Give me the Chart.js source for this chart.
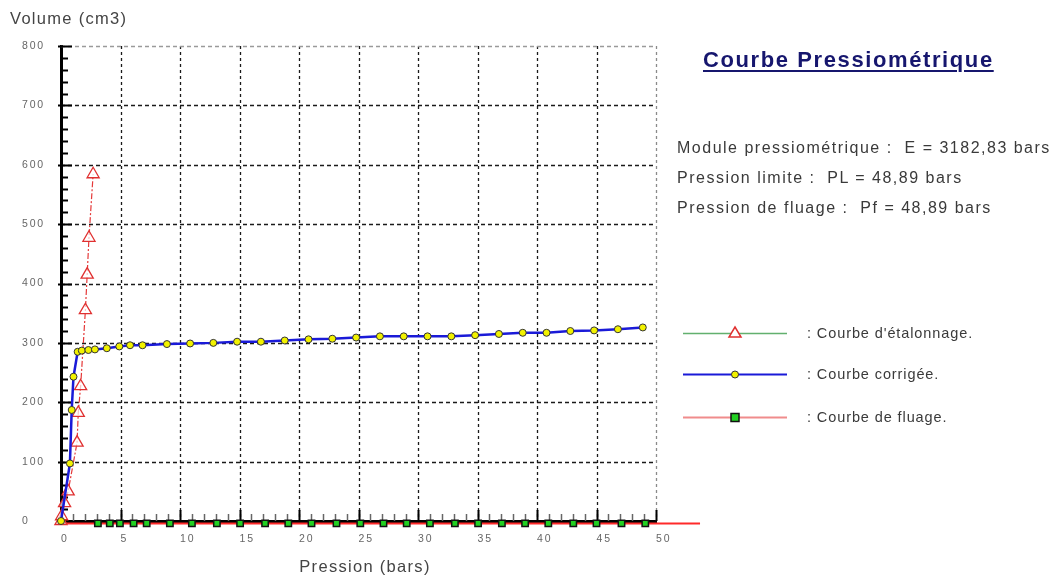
<!DOCTYPE html>
<html lang="fr">
<head>
<meta charset="utf-8">
<title>Courbe Pressiométrique</title>
<script src="https://cdn.jsdelivr.net/npm/chart.js@4.4.1/dist/chart.umd.min.js"></script>
<style>
  html, body { margin: 0; padding: 0; background: #fff; }
  #wrap { position: relative; width: 1060px; height: 580px; overflow: hidden; font-family: "Liberation Sans", Arial, sans-serif; }
  #chart { position: absolute; left: 0; top: 0; }
  .txt { position: absolute; white-space: nowrap; transform: translateY(-50%); color: #3a3a3a; line-height: 1; }
  #ytitle { left: 10px; top: 18px; font-size: 16.5px; color: #444; letter-spacing: 1.3px; }
  #xtitle { left: 365px; top: 566px; font-size: 16.5px; color: #444; letter-spacing: 1.3px; transform: translate(-50%, -50%); }
  #title { left: 703px; top: 60px; font-size: 22px; font-weight: bold; color: #16166e; letter-spacing: 1.6px;
           text-decoration: underline; text-decoration-thickness: 2px; text-underline-offset: 3px; }
  .info { left: 677px; font-size: 16px; color: #3a3a3a; letter-spacing: 1.5px; }
  .leg { left: 807px; font-size: 14.5px; color: #3a3a3a; letter-spacing: 0.9px; }
</style>
</head>
<body>
<div id="wrap">
  <canvas id="chart" width="1060" height="580"></canvas>
  <div class="txt" id="ytitle">Volume (cm3)</div>
  <div class="txt" id="xtitle">Pression (bars)</div>
  <div class="txt" id="title">Courbe Pressiométrique</div>
  <div class="txt info" style="top:148px">Module pressiométrique :&nbsp; E = 3182,83 bars</div>
  <div class="txt info" style="top:178px">Pression limite :&nbsp; PL = 48,89 bars</div>
  <div class="txt info" style="top:208px">Pression de fluage :&nbsp; Pf = 48,89 bars</div>
  <div class="txt leg" style="top:333px">: Courbe d'étalonnage.</div>
  <div class="txt leg" style="top:374px">: Courbe corrigée.</div>
  <div class="txt leg" style="top:417px">: Courbe de fluage.</div>
</div>
<script>
// Axis ticks
const xTickValues = [0, 5, 10, 15, 20, 25, 30, 35, 40, 45, 50];
const yTickValues = [0, 100, 200, 300, 400, 500, 600, 700, 800];

// Courbe d'étalonnage (bars, cm3)
const pressionEtalonnage = [0, 0.05, 0.3, 0.6, 1.35, 1.45, 1.65, 2.05, 2.2, 2.35, 2.7];
const volumeEtalonnage   = [0, 8, 30, 50, 132, 182, 227, 355, 415, 477, 584];

// Courbe corrigée (bars, cm3)
const pressionCorrigee = [0, 0.75, 0.9, 1.05, 1.4, 1.75, 2.3, 2.85, 3.85, 4.9, 5.8, 6.85, 8.9,
  10.85, 12.8, 14.8, 16.8, 18.8, 20.8, 22.8, 24.8, 26.8, 28.8, 30.8, 32.8, 34.8, 36.8,
  38.8, 40.8, 42.8, 44.8, 46.8, 48.89];
const volumeCorrige = [0, 97, 187, 243, 285, 287, 288, 289, 291, 294, 296, 296, 298,
  299, 300, 302, 302, 304, 306, 307, 309, 311, 311, 311, 311, 313, 315,
  317, 317, 320, 321, 323, 326];

// Courbe de fluage (bars, cm3)
const pressionFluage = [0, 3.1, 4.1, 4.95, 6.1, 7.2, 9.15, 11, 13.1, 15.05, 17.15, 19.1, 21.05,
  23.15, 25.15, 27.1, 29.05, 31, 33.1, 35.05, 37.05, 39, 40.95, 43.05, 45, 47.1, 49.1, 53.7];
const volumeFluage = [-4, -4, -4, -4, -4, -4, -4, -4, -4, -4, -4, -4, -4,
  -4, -4, -4, -4, -4, -4, -4, -4, -4, -4, -4, -4, -4, -4, -4];

const toPoints = (xs, ys) => xs.map((x, i) => ({ x: x, y: ys[i] }));

// Dashed grid, inward minor/major ticks, legend samples
const axesDecor = {
  id: 'axesDecor',
  beforeDraw(chart) {
    // widened tick labels
    chart.ctx.letterSpacing = '1.8px';
  },
  beforeDatasetsDraw(chart) {
    const { ctx, chartArea: a, scales: { x, y } } = chart;
    ctx.save();
    ctx.lineWidth = 1.3;
    ctx.setLineDash([3, 3]);
    xTickValues.slice(1).forEach(v => {
      const px = Math.round(x.getPixelForValue(v)) + 0.5;
      ctx.strokeStyle = v === 50 ? '#8a8a8a' : '#1a1a1a';
      ctx.beginPath(); ctx.moveTo(px, a.top); ctx.lineTo(px, a.bottom); ctx.stroke();
    });
    ctx.setLineDash([4, 3]);
    yTickValues.slice(1).forEach(v => {
      const py = Math.round(y.getPixelForValue(v)) + 0.5;
      ctx.strokeStyle = v === 800 ? '#9a9a9a' : '#1a1a1a';
      ctx.beginPath(); ctx.moveTo(a.left, py); ctx.lineTo(a.right, py); ctx.stroke();
    });
    ctx.setLineDash([]);
    // vertical axis ticks, every 20 cm3
    for (let v = 0; v <= 800; v += 20) {
      const py = Math.round(y.getPixelForValue(v)) + 0.5;
      const major = v % 100 === 0;
      ctx.strokeStyle = '#000';
      ctx.lineWidth = 2;
      ctx.beginPath(); ctx.moveTo(a.left - (major ? 3 : 0), py); ctx.lineTo(a.left + (major ? 11 : 7), py); ctx.stroke();
    }
    // horizontal axis ticks, every bar
    for (let v = 0; v <= 50; v += 1) {
      const px = Math.round(x.getPixelForValue(v)) + 0.5;
      const major = v % 5 === 0;
      ctx.strokeStyle = major ? '#000' : '#666';
      ctx.lineWidth = major ? 2 : 1.5;
      ctx.beginPath(); ctx.moveTo(px, a.bottom); ctx.lineTo(px, a.bottom - (major ? 11 : 7)); ctx.stroke();
    }
    ctx.restore();
  },
  afterDraw(chart) {
    const ctx = chart.ctx;
    ctx.save();
    const x0 = 683, x1 = 787, xm = 735;
    // étalonnage
    ctx.strokeStyle = '#62b06e'; ctx.lineWidth = 1.5;
    ctx.beginPath(); ctx.moveTo(x0, 333.5); ctx.lineTo(x1, 333.5); ctx.stroke();
    ctx.strokeStyle = '#e03030'; ctx.fillStyle = '#fff'; ctx.lineWidth = 1.5;
    ctx.beginPath(); ctx.moveTo(xm, 327); ctx.lineTo(xm + 6, 337); ctx.lineTo(xm - 6, 337); ctx.closePath();
    ctx.fill(); ctx.stroke();
    // corrigée
    ctx.strokeStyle = '#1a1ad8'; ctx.lineWidth = 2;
    ctx.beginPath(); ctx.moveTo(x0, 374.5); ctx.lineTo(x1, 374.5); ctx.stroke();
    ctx.fillStyle = '#f2f200'; ctx.strokeStyle = '#333'; ctx.lineWidth = 1;
    ctx.beginPath(); ctx.arc(xm, 374.5, 3.5, 0, Math.PI * 2); ctx.fill(); ctx.stroke();
    // fluage
    ctx.strokeStyle = '#f08c8c'; ctx.lineWidth = 2;
    ctx.beginPath(); ctx.moveTo(x0, 417.5); ctx.lineTo(x1, 417.5); ctx.stroke();
    ctx.fillStyle = '#22d022'; ctx.strokeStyle = '#111'; ctx.lineWidth = 1.5;
    ctx.fillRect(xm - 4, 413.5, 8, 8); ctx.strokeRect(xm - 4, 413.5, 8, 8);
    ctx.restore();
  }
};

const tickFont = { family: '"Liberation Sans", Arial, sans-serif', size: 10.5 };

new Chart(document.getElementById('chart'), {
  type: 'scatter',
  data: {
    datasets: [
      {
        label: 'Courbe de fluage',
        data: toPoints(pressionFluage, volumeFluage),
        showLine: true,
        borderColor: '#ff2a2a',
        borderWidth: 2,
        pointStyle: 'rect',
        pointRadius: ctx => (ctx.dataIndex === 0 || ctx.dataIndex === pressionFluage.length - 1) ? 0 : 4.5,
        pointBackgroundColor: '#22d022',
        pointBorderColor: '#111',
        pointBorderWidth: 1.5,
        clip: false,
        order: 3
      },
      {
        label: "Courbe d'étalonnage",
        data: toPoints(pressionEtalonnage, volumeEtalonnage),
        showLine: true,
        borderColor: '#e53a3a',
        borderWidth: 1.2,
        borderDash: [6, 2, 2, 2],
        pointStyle: 'triangle',
        pointRadius: 7,
        pointBackgroundColor: 'rgba(255,255,255,0.7)',
        pointBorderColor: '#e03030',
        pointBorderWidth: 1.3,
        clip: false,
        order: 2
      },
      {
        label: 'Courbe corrigée',
        data: toPoints(pressionCorrigee, volumeCorrige),
        showLine: true,
        borderColor: '#1a1ad8',
        borderWidth: 2.5,
        pointStyle: 'circle',
        pointRadius: 3.5,
        pointBackgroundColor: '#f2f200',
        pointBorderColor: '#333',
        pointBorderWidth: 1,
        clip: false,
        order: 1
      }
    ]
  },
  options: {
    responsive: false,
    animation: false,
    events: [],
    layout: { padding: { left: 22, top: 46, right: 404, bottom: 0 } },
    plugins: { legend: { display: false }, tooltip: { enabled: false }, title: { display: false } },
    scales: {
      x: {
        type: 'linear',
        min: 0, max: 50,
        afterBuildTicks: s => { s.ticks = xTickValues.map(v => ({ value: v })); },
        afterFit: s => { s.height = 59; },
        grid: { display: false, drawTicks: false },
        border: { display: true, color: '#000', width: 3 },
        ticks: { align: 'start', padding: 12, color: '#666', font: tickFont, maxRotation: 0 }
      },
      y: {
        type: 'linear',
        min: 0, max: 800,
        afterBuildTicks: s => { s.ticks = yTickValues.map(v => ({ value: v })); },
        afterFit: s => { s.width = 39; },
        grid: { display: false, drawTicks: false },
        border: { display: true, color: '#000', width: 3 },
        ticks: { crossAlign: 'far', padding: 8, color: '#666', font: tickFont }
      }
    }
  },
  plugins: [axesDecor]
});
</script>
</body>
</html>
